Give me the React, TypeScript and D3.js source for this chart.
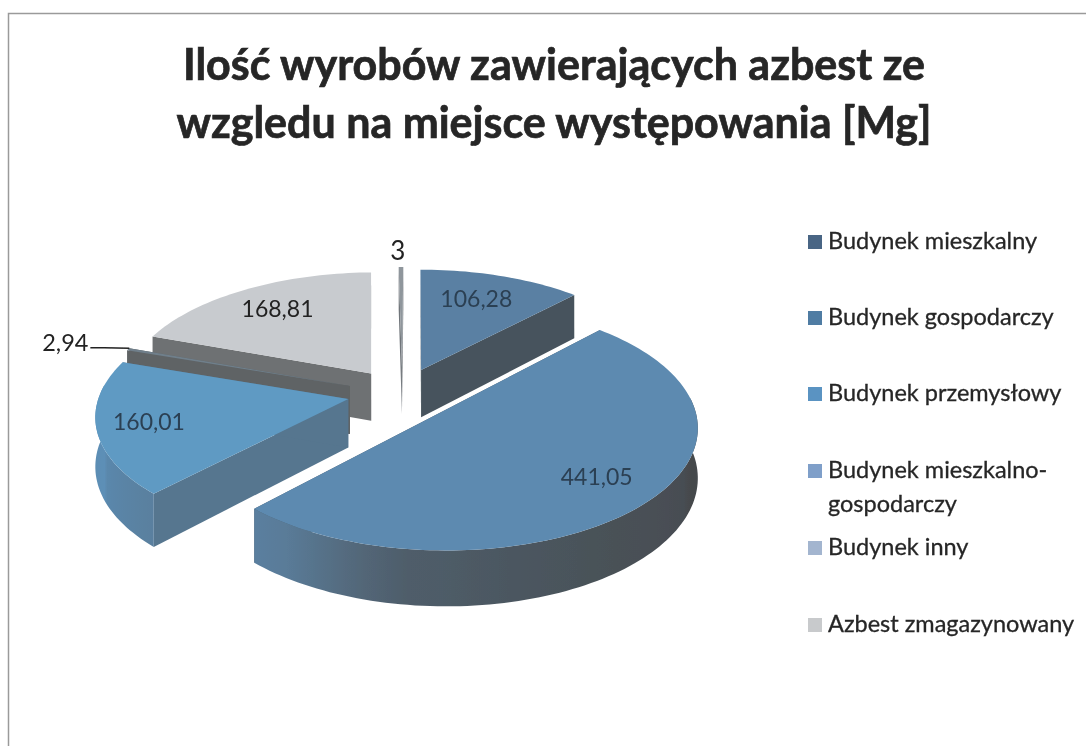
import React from "react";
import * as d3 from "d3";

const categories = ["Budynek mieszkalny", "Budynek gospodarczy", "Budynek przemysłowy", "Budynek mieszkalno-gospodarczy", "Budynek inny", "Azbest zmagazynowany"];
const titleLines = ["Ilość wyrobów zawierających azbest ze", "wzgledu na miejsce występowania [Mg]"];
const sliceValues = [106.28, 441.05, 160.01, 2.94, 168.81, 3];
const sliceLabels = ["106,28", "441,05", "160,01", "2,94", "168,81", "3"];
const legendNames = ["Budynek mieszkalny", "Budynek gospodarczy", "Budynek przemysłowy", ["Budynek mieszkalno-", "gospodarczy"], "Budynek inny", "Azbest zmagazynowany"];

// exploded offset of each wedge, disc units
const offsetU = [0.025, 0.108, -0.267, -0.264, -0.18, -0.054];
const offsetV = [0.25, -0.104, 0, 0.11, 0.22, 0.28];
// label placement relative to the wedge apex: radius, degrees clockwise from north
const labelRadius = [0.732, 0.758, 0.796, 1.28, 0.744, 1.18];
const labelAngle = [19.8, 131.7, 256.2, 287.8, 325.2, 358.7];
const labelSizes = [23, 23, 23, 23.5, 23, 26];

const topColors = ["#5a80a3", "#5d8ab0", "#5f9ac3", "#6f7f8b", "#c8cbcf", "#8f969c"];
const wallColors = ["#47535d", "#4d5c68", "#56768f", "#5f6365", "#6e7173", "#70757a"];
const legendColors = ["#4a6584", "#4f7ba3", "#5a93c2", "#7f9fc9", "#a3b5cf", "#c8cacc"];
const drawOrder = [4, 5, 3, 0, 2, 1];
const legendY = [242, 318, 394, 471, 548, 625];

const P = 0.12; // perspective strength
const DEPTH = 48.5; // wall height on the page
const xS = d3.scaleLinear().domain([0, 1]).range([415, 665]);
const yS = d3.scaleLinear().domain([0, 1]).range([399, 280]);

type Pt = [number, number];
const project = (u: number, v: number): Pt => {
  const w = 1 + P * v;
  return [xS(u / w), yS(v / w)];
};
const dropped = (u: number, v: number): Pt => {
  const [x, y] = project(u, v);
  return [x, y + DEPTH / (1 + P * v)];
};
const line = d3.line<Pt>().curve(d3.curveLinearClosed);
const leader = d3.line<Pt>();

const outerWallShade = d3
  .scaleLinear<string>()
  .domain([90, 150, 190, 215, 250, 290])
  .range(["#45494c", "#4a5259", "#4f5e6b", "#5a7c99", "#5a8ab0", "#5f92ba"]);

const arcs = d3.pie<number>().sort(null).startAngle(0).endAngle(2 * Math.PI)(sliceValues);

function Wedge({ i }: { i: number }) {
  const a = arcs[i];
  const cu = offsetU[i];
  const cv = offsetV[i];
  const rim = (t: number): [number, number] => [cu + Math.sin(t), cv + Math.cos(t)];
  const n = Math.max(2, Math.ceil((a.endAngle - a.startAngle) / (Math.PI / 120)));
  const ts = d3.range(n + 1).map((k) => a.startAngle + ((a.endAngle - a.startAngle) * k) / n);
  const top: Pt[] = [project(cu, cv), ...ts.map((t) => project(...rim(t)))];
  const wall = (t: number): Pt[] => {
    const [u, v] = rim(t);
    return [project(cu, cv), project(u, v), dropped(u, v), dropped(cu, cv)];
  };
  const front = ts.filter((t) => Math.cos(t) <= 0.12);
  let outer = null;
  if (front.length > 1) {
    const upper = front.map((t) => project(...rim(t)));
    const lower = front.map((t) => dropped(...rim(t))).reverse();
    const xs = upper.map((p) => p[0]);
    const x0 = d3.min(xs) as number;
    const x1 = d3.max(xs) as number;
    const byX = front
      .map((t, k) => ({ x: xs[k], deg: (t * 180) / Math.PI }))
      .sort((p, q) => p.x - q.x);
    const step = Math.max(1, Math.floor(byX.length / 14));
    const stops = byX.filter((_, k) => k % step === 0);
    const id = `wall${i}`;
    const shaded = i === 1 || i === 2;
    outer = (
      <g>
        <linearGradient id={id} gradientUnits="userSpaceOnUse" x1={x0} x2={x1} y1={0} y2={0}>
          {stops.map((s, k) => (
            <stop key={k} offset={(s.x - x0) / Math.max(1, x1 - x0)} stopColor={shaded ? outerWallShade(s.deg) : wallColors[i]} />
          ))}
        </linearGradient>
        <path d={line([...upper, ...lower]) ?? ""} fill={`url(#${id})`} />
      </g>
    );
  }
  return (
    <g>
      <path d={line(wall(a.startAngle)) ?? ""} fill={wallColors[i]} />
      <path d={line(wall(a.endAngle)) ?? ""} fill={wallColors[i]} />
      {outer}
      <path d={line(top) ?? ""} fill={topColors[i]} />
    </g>
  );
}

const font = "Lato, 'Open Sans', sans-serif";

export default function App() {
  const labelPos = sliceValues.map((_, i) => {
    const t = (labelAngle[i] * Math.PI) / 180;
    return project(offsetU[i] + labelRadius[i] * Math.sin(t), offsetV[i] + labelRadius[i] * Math.cos(t));
  });
  const tiny = arcs[3];
  const corner = project(offsetU[3] + Math.sin(tiny.endAngle), offsetV[3] + Math.cos(tiny.endAngle));
  const lead: Pt[] = [
    [labelPos[3][0] + 25, labelPos[3][1] + 5],
    [labelPos[3][0] + 39, labelPos[3][1] + 5],
    corner,
  ];
  return (
    <svg width={1086} height={746} style={{ position: "absolute", left: 0, top: 0, background: "#fff" }} fontFamily={font}>
      <defs>
        <filter id="scan" x="-5%" y="-5%" width="110%" height="110%">
          <feGaussianBlur stdDeviation={0.6} />
        </filter>
        <filter id="soft" x="-5%" y="-5%" width="110%" height="110%">
          <feGaussianBlur stdDeviation={0.35} />
        </filter>
      </defs>
      <path d="M8.5 746V13.5H1086" fill="none" stroke="#9a9a9a" strokeWidth={1.5} />
      <g textAnchor="middle" fontWeight={700} fontSize={43} fill="#262626" stroke="#262626" strokeWidth={0.7} filter="url(#soft)">
        {titleLines.map((s, i) => (
          <text key={i} x={554} y={80 + i * 58}>{s}</text>
        ))}
      </g>
      <g filter="url(#scan)">
        {drawOrder.map((i) => (
          <Wedge key={i} i={i} />
        ))}
        <path d={leader(lead) ?? ""} fill="none" stroke="#222" strokeWidth={1.6} />
        {sliceLabels.map((s, i) => (
          <text key={i} x={labelPos[i][0]} y={labelPos[i][1]} dy="0.35em" textAnchor="middle" fontSize={labelSizes[i]}
            fill={i === 0 || i === 1 || i === 2 ? "#2c3f52" : "#222"}>{s}</text>
        ))}
      </g>
      <g fontSize={23.5} fill="#262626" stroke="#262626" strokeWidth={0.3} filter="url(#soft)">
        {categories.map((c, i) => {
          const name = legendNames[i];
          const rows = Array.isArray(name) ? name : [name];
          return (
            <g key={c}>
              <rect x={808} y={legendY[i] - 7} width={14} height={14} fill={legendColors[i]} stroke="none" />
              {rows.map((r, k) => (
                <text key={k} x={828} y={legendY[i] + 7 + k * 34}>{r}</text>
              ))}
            </g>
          );
        })}
      </g>
    </svg>
  );
}
